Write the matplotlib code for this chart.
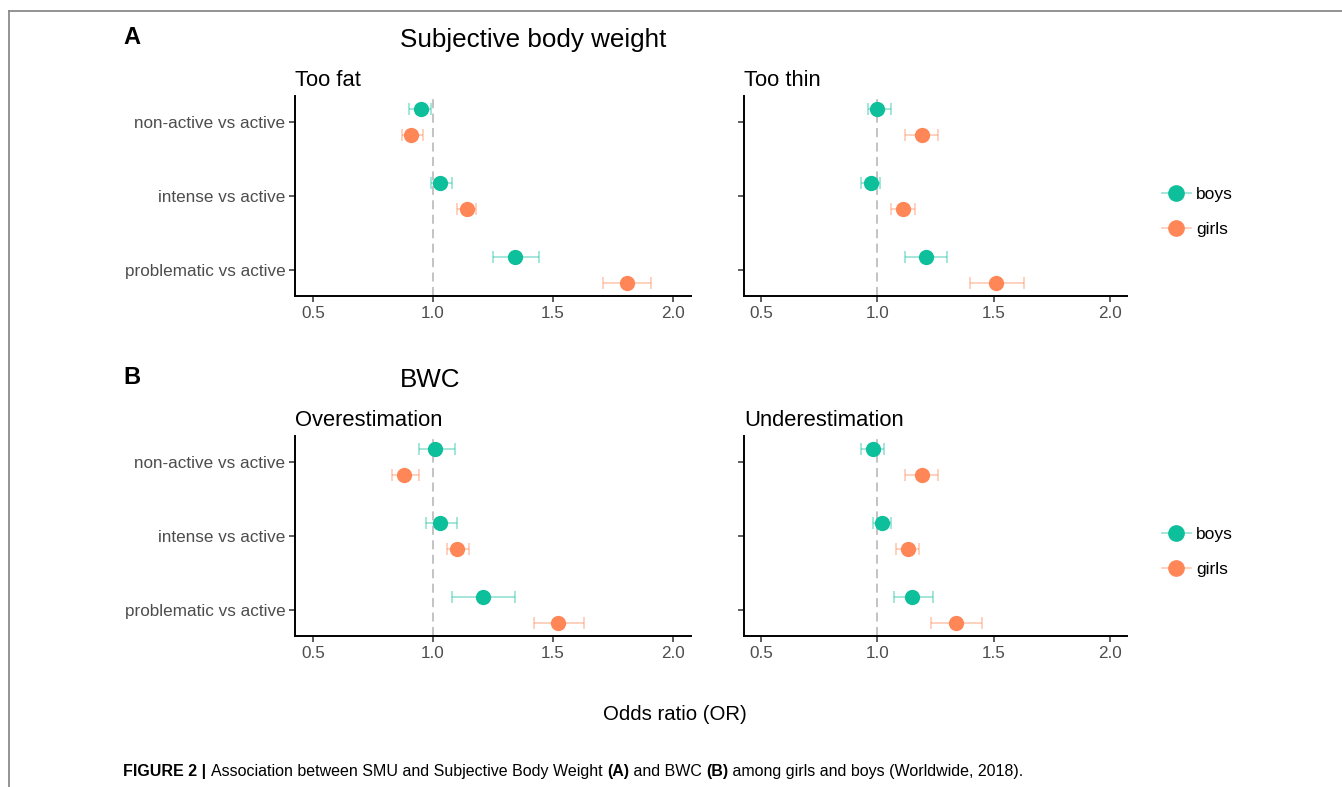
import matplotlib
matplotlib.use("Agg")
import matplotlib.pyplot as plt
from matplotlib.lines import Line2D
from matplotlib.text import Annotation
from matplotlib.legend_handler import HandlerTuple

plt.rcParams['font.family'] = ['Liberation Sans', 'DejaVu Sans']

# ---------------- data ----------------
categories = ["non-active vs active", "intense vs active", "problematic vs active"]
groups = ["boys", "girls"]
x_ticks = [0.5, 1.0, 1.5, 2.0]
x_ticklabels = ["0.5", "1.0", "1.5", "2.0"]

too_fat_boys = [0.95, 1.03, 1.34]
too_fat_boys_lo = [0.90, 0.99, 1.25]
too_fat_boys_hi = [0.99, 1.08, 1.44]
too_fat_girls = [0.91, 1.14, 1.81]
too_fat_girls_lo = [0.87, 1.10, 1.71]
too_fat_girls_hi = [0.96, 1.18, 1.91]

too_thin_boys = [1.00, 0.97, 1.21]
too_thin_boys_lo = [0.96, 0.93, 1.12]
too_thin_boys_hi = [1.06, 1.01, 1.30]
too_thin_girls = [1.19, 1.11, 1.51]
too_thin_girls_lo = [1.12, 1.06, 1.40]
too_thin_girls_hi = [1.26, 1.16, 1.63]

over_boys = [1.01, 1.03, 1.21]
over_boys_lo = [0.94, 0.97, 1.08]
over_boys_hi = [1.09, 1.10, 1.34]
over_girls = [0.88, 1.10, 1.52]
over_girls_lo = [0.83, 1.06, 1.42]
over_girls_hi = [0.94, 1.15, 1.63]

under_boys = [0.98, 1.02, 1.15]
under_boys_lo = [0.93, 0.98, 1.07]
under_boys_hi = [1.03, 1.06, 1.24]
under_girls = [1.19, 1.13, 1.34]
under_girls_lo = [1.12, 1.08, 1.23]
under_girls_hi = [1.26, 1.18, 1.45]

panels = [
    ("Too fat", (too_fat_boys, too_fat_boys_lo, too_fat_boys_hi),
     (too_fat_girls, too_fat_girls_lo, too_fat_girls_hi)),
    ("Too thin", (too_thin_boys, too_thin_boys_lo, too_thin_boys_hi),
     (too_thin_girls, too_thin_girls_lo, too_thin_girls_hi)),
    ("Overestimation", (over_boys, over_boys_lo, over_boys_hi),
     (over_girls, over_girls_lo, over_girls_hi)),
    ("Underestimation", (under_boys, under_boys_lo, under_boys_hi),
     (under_girls, under_girls_lo, under_girls_hi)),
]

# ---------------- style ----------------
W, H = 1342, 787
col_boys = "#0EBF9B"
col_girls = "#FF8657"
tick_col = "#4D4D4D"

fig = plt.figure(figsize=(W / 100, H / 100), dpi=100)

def rect(x0, y0, x1, y1):
    return [x0 / W, 1 - y1 / H, (x1 - x0) / W, (y1 - y0) / H]

rects = [rect(295, 96, 691, 296), rect(744, 96, 1127, 296),
         rect(295, 436, 691, 636), rect(744, 436, 1127, 636)]

ypos = [3, 2, 1]
dodge = 0.17

for i, ((title, boys, girls), r) in enumerate(zip(panels, rects)):
    ax = fig.add_axes(r)
    ax.axvline(1.0, color="#BEBEBE", lw=1.3, ls=(0, (5, 3)), zorder=1)
    for (vals, lo, hi), col, off in ((boys, col_boys, dodge), (girls, col_girls, -dodge)):
        yy = [p + off for p in ypos]
        xerr = [[v - l for v, l in zip(vals, lo)], [h - v for v, h in zip(vals, hi)]]
        ax.errorbar(vals, yy, xerr=xerr, fmt="none", ecolor=col, alpha=0.45,
                    elinewidth=1.2, capsize=4, capthick=1.2, zorder=2)
        ax.plot(vals, yy, "o", color=col, ms=11, mew=0, zorder=3)
    ax.set_xlim(0.425, 2.075)
    ax.set_ylim(0.65, 3.35)
    ax.set_xticks(x_ticks)
    ax.set_xticklabels(x_ticklabels)
    ax.set_yticks(ypos)
    if i % 2 == 0:
        ax.set_yticklabels(categories)
    else:
        ax.set_yticklabels([])
    for s in ("top", "right"):
        ax.spines[s].set_visible(False)
    for s in ("left", "bottom"):
        ax.spines[s].set_linewidth(1.4)
        ax.spines[s].set_color("black")
    ax.tick_params(axis="both", length=4, width=1.1, color="#333333",
                   labelcolor=tick_col, labelsize=12.3, pad=3)
    ax.set_title(title, loc="left", fontsize=15.8, color="black", pad=7)

# legends
for ly in (212, 552):
    hb = (Line2D([], [], color=col_boys, alpha=0.45, lw=1.2),
          Line2D([], [], color=col_boys, marker="o", ms=11, lw=0))
    hg = (Line2D([], [], color=col_girls, alpha=0.45, lw=1.2),
          Line2D([], [], color=col_girls, marker="o", ms=11, lw=0))
    fig.legend([hb, hg], groups, loc="center left",
               bbox_to_anchor=(1146 / W, 1 - ly / H), frameon=False,
               handler_map={tuple: HandlerTuple(ndivide=1)},
               fontsize=12.5, handlelength=1.7, labelspacing=1.1, handletextpad=0.3)

# headings
fig.text(123 / W, 1 - 38 / H, "A", fontsize=17, fontweight="bold", va="center")
fig.text(400 / W, 1 - 40 / H, "Subjective body weight", fontsize=18.7, va="center")
fig.text(123 / W, 1 - 378 / H, "B", fontsize=17, fontweight="bold", va="center")
fig.text(400 / W, 1 - 380 / H, "BWC", fontsize=18.7, va="center")
fig.text(675 / W, 1 - 715 / H, "Odds ratio (OR)", fontsize=14.7, ha="center", va="center")

# caption (mixed bold / normal pieces chained left to right)
parts = [("FIGURE 2 | ", "bold"), ("Association between SMU and Subjective Body Weight ", "normal"),
         ("(A)", "bold"), (" and BWC ", "normal"), ("(B)", "bold"),
         (" among girls and boys (Worldwide, 2018).", "normal")]
cap_fs = 11.5
cap = fig.text(123 / W, 1 - 776 / H, parts[0][0], fontsize=cap_fs, fontweight=parts[0][1],
               va="baseline")
for txt, wgt in parts[1:]:
    cap = fig.add_artist(Annotation(
        txt, xy=(1, 0), xycoords=cap, xytext=(0, 0), textcoords="offset points",
        fontsize=cap_fs, fontweight=wgt, va="bottom", ha="left"))

# border frame
fig.add_artist(Line2D([9 / W, 9 / W], [0, 1 - 10.5 / H], color="#8A8A8A", lw=1.3))
fig.add_artist(Line2D([9 / W, 1], [1 - 10.5 / H, 1 - 10.5 / H], color="#8A8A8A", lw=1.3))

fig.savefig("out.png", dpi=100)
